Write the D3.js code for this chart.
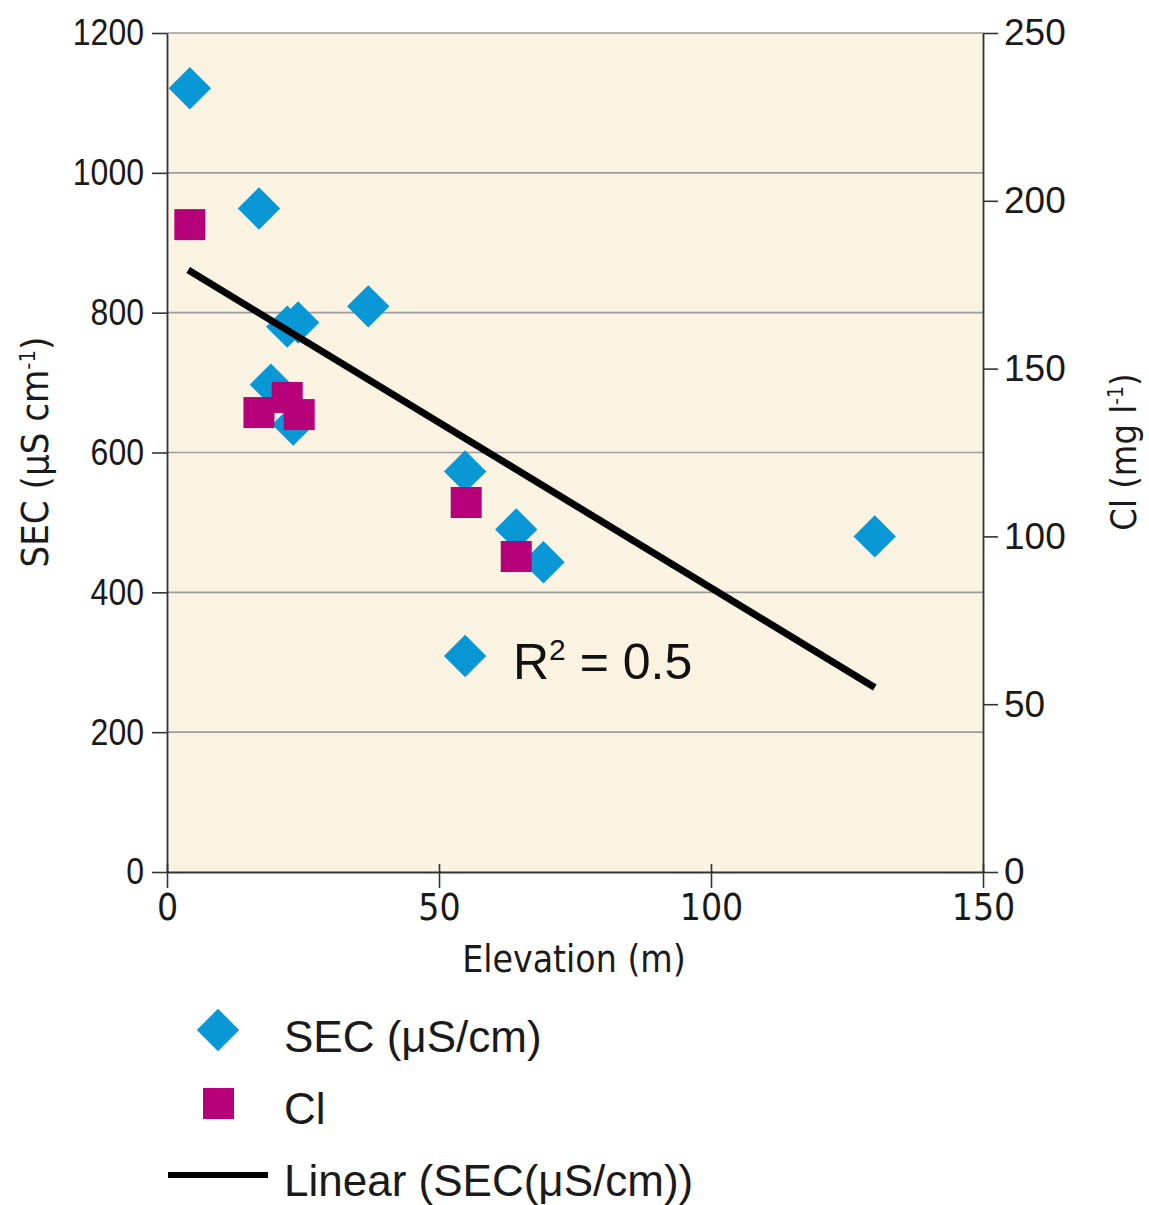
<!DOCTYPE html>
<html>
<head>
  <meta charset="utf-8">
  <title>SEC and Cl vs Elevation</title>
  <style>
    body { margin: 0; background: #fff; }
    svg { display: block; }
  </style>
</head>
<body>
  <script src="https://cdn.jsdelivr.net/npm/d3@7"></script>
  <script>
    // values
    var secElev = [4.2, 16.9, 22.1, 24.1, 37.0, 19.1, 23.2, 54.8, 64.2, 69.2, 130.1, 54.8];
    var secVals = [1121, 949, 780, 786, 809, 697, 640, 573, 490, 443, 480, 309];
    var clElev = [4.2, 16.9, 22.1, 24.3, 55.0, 64.2];
    var clVals = [192.9, 136.9, 141.4, 136.3, 110.1, 94.0];
    var trendElev = [3.9, 130.1];
    var trendVals = [861, 264];
    var xTicks = [0, 50, 100, 150];
    var yTicks = [0, 200, 400, 600, 800, 1000, 1200];
    var y2Ticks = [0, 50, 100, 150, 200, 250];
    var legendLabels = ['SEC (\u03bcS/cm)', 'Cl', 'Linear (SEC(\u03bcS/cm))'];

    var W = 1149, H = 1205;
    var mLeft = 167, mRight = 983, mTop = 33, mBottom = 872;
    var blue = '#0a97d6', magenta = '#b5007a';
    var narrow = '"Liberation Sans Narrow", "DejaVu Sans Condensed", sans-serif';
    var sans = '"Liberation Sans", Arial, sans-serif';

    var svg = d3.select('body').append('svg').attr('width', W).attr('height', H);

    var x = d3.scaleLinear().domain([0, 150]).range([mLeft, mRight]);
    var y = d3.scaleLinear().domain([0, 1200]).range([mBottom, mTop]);
    var y2 = d3.scaleLinear().domain([0, 250]).range([mBottom, mTop]);

    // plot background
    svg.append('rect')
      .attr('x', mLeft).attr('y', mTop)
      .attr('width', mRight - mLeft).attr('height', mBottom - mTop)
      .attr('fill', '#faf3e2');

    // horizontal grid
    svg.selectAll('line.grid').data(yTicks.slice(1)).enter().append('line')
      .attr('class', 'grid')
      .attr('x1', mLeft).attr('x2', mRight)
      .attr('y1', function(d) { return y(d); })
      .attr('y2', function(d) { return y(d); })
      .attr('stroke', '#9c9c9c').attr('stroke-width', 1.6);

    // axes
    var fmt = d3.format('d');
    var xAxis = d3.axisBottom(x).tickValues(xTicks).tickFormat(fmt).tickSize(16).tickSizeOuter(0).tickPadding(6);
    var yAxis = d3.axisLeft(y).tickValues(yTicks).tickFormat(fmt).tickSize(15).tickSizeOuter(0).tickPadding(8);
    var y2Axis = d3.axisRight(y2).tickValues(y2Ticks).tickFormat(fmt).tickSize(15).tickSizeOuter(0).tickPadding(6);

    var gx = svg.append('g').attr('transform', 'translate(0,' + mBottom + ')').call(xAxis);
    var gy = svg.append('g').attr('transform', 'translate(' + mLeft + ',0)').call(yAxis);
    var gy2 = svg.append('g').attr('transform', 'translate(' + mRight + ',0)').call(y2Axis);

    [gx, gy, gy2].forEach(function(g) {
      g.select('.domain').attr('stroke', '#333').attr('stroke-width', 1.8);
      g.selectAll('.tick line').attr('stroke', '#333').attr('stroke-width', 1.6);
      g.selectAll('.tick text').attr('fill', '#1a1a1a').attr('font-family', sans).attr('font-size', 37);
    });
    gx.selectAll('.tick text').attr('font-family', narrow).attr('font-size', 37);
    // left labels are a little narrower in the original
    gy.selectAll('.tick text')
      .attr('textLength', function(d) { return String(d).length * 17.8; })
      .attr('lengthAdjust', 'spacingAndGlyphs');
    // x ticks also cross slightly into the plot
    gx.selectAll('.tick line').attr('y1', -8);

    // axis titles
    svg.append('text')
      .attr('x', (mLeft + mRight) / 2 - 1).attr('y', 972)
      .attr('text-anchor', 'middle')
      .attr('font-family', narrow).attr('font-size', 37).attr('fill', '#1a1a1a')
      .text('Elevation (m)');

    var t1 = svg.append('text')
      .attr('transform', 'translate(48,452) rotate(-90)')
      .attr('text-anchor', 'middle')
      .attr('font-family', narrow).attr('font-size', 38).attr('fill', '#1a1a1a');
    t1.append('tspan').text('SEC (\u03bcS cm');
    t1.append('tspan').attr('dy', -13).attr('font-size', 22).text('-1');
    t1.append('tspan').attr('dy', 13).text(')');

    var t2 = svg.append('text')
      .attr('transform', 'translate(1136,452) rotate(-90)')
      .attr('text-anchor', 'middle')
      .attr('font-family', narrow).attr('font-size', 36).attr('fill', '#1a1a1a');
    t2.append('tspan').text('Cl (mg l');
    t2.append('tspan').attr('dy', -13).attr('font-size', 21).text('-1');
    t2.append('tspan').attr('dy', 13).text(')');

    // markers
    var diamond = d3.symbol().type(d3.symbolSquare).size(900);
    var sec = secElev.map(function(e, i) { return { x: e, y: secVals[i] }; });
    var cl = clElev.map(function(e, i) { return { x: e, y: clVals[i] }; });

    svg.selectAll('path.sec').data(sec).enter().append('path')
      .attr('class', 'sec')
      .attr('d', diamond)
      .attr('transform', function(d) { return 'translate(' + x(d.x) + ',' + y(d.y) + ') rotate(45)'; })
      .attr('fill', blue);

    svg.selectAll('rect.cl').data(cl).enter().append('rect')
      .attr('class', 'cl')
      .attr('x', function(d) { return x(d.x) - 15.5; })
      .attr('y', function(d) { return y2(d.y) - 15.5; })
      .attr('width', 31).attr('height', 31)
      .attr('fill', magenta);

    // trend line
    var trend = trendElev.map(function(e, i) { return [x(e), y(trendVals[i])]; });
    svg.append('path')
      .attr('d', d3.line()(trend))
      .attr('stroke', '#000').attr('stroke-width', 7).attr('fill', 'none');

    // R squared label
    var r2 = svg.append('text')
      .attr('x', 513).attr('y', 679)
      .attr('font-family', sans).attr('font-size', 50).attr('fill', '#111');
    r2.append('tspan').text('R');
    r2.append('tspan').attr('dy', -19).attr('font-size', 30).text('2');
    r2.append('tspan').attr('dy', 19).text(' = 0.5');

    // legend
    var lg = svg.append('g');
    lg.append('path').attr('d', diamond)
      .attr('transform', 'translate(218,1030) rotate(45)').attr('fill', blue);
    lg.append('rect').attr('x', 203).attr('y', 1088).attr('width', 31).attr('height', 31).attr('fill', magenta);
    lg.append('line').attr('x1', 168).attr('x2', 268).attr('y1', 1175).attr('y2', 1175)
      .attr('stroke', '#000').attr('stroke-width', 6);
    lg.selectAll('text').data(legendLabels).enter().append('text')
      .attr('x', 284)
      .attr('y', function(d, i) { return 1052 + i * 72; })
      .attr('font-family', sans).attr('font-size', 44).attr('fill', '#1a1a1a')
      .text(function(d) { return d; });
  </script>
</body>
</html>
